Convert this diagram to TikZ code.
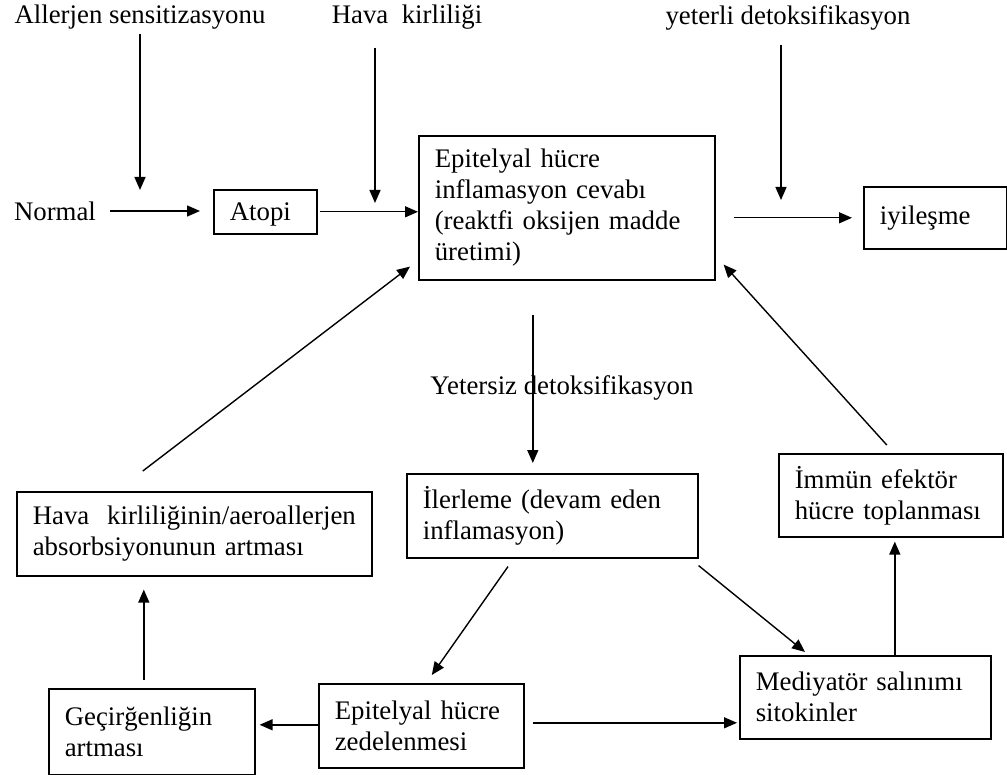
\documentclass[tikz,border=0pt]{standalone}
\usepackage{fontspec}
\setmainfont{Liberation Serif}
\usetikzlibrary{arrows.meta,positioning}

\begin{document}
\begin{tikzpicture}[
    x=0.5pt, y=-0.5pt,
    font=\fontsize{13.4}{15.5}\selectfont,
    box/.style={draw, thick, anchor=north west, align=left, inner xsep=8pt, inner ysep=0pt},
    lbl/.style={inner sep=2pt},
    arr/.style={-{Triangle[length=6.5pt, width=5.5pt]}, line width=0.7pt},
]
\useasboundingbox (0,0) rectangle (1007,775);

% --- top labels ---
\node[lbl] (allerjen) at (140,17) {Allerjen sensitizasyonu};
\node[lbl] (havak) at (407,17) {Hava~~kirliliği};
\node[lbl] (yeterli) at (788,18) {yeterli detoksifikasyon};
\node[lbl] (normal) at (55,211) {Normal};
\coordinate (a1) at (140,190);
\coordinate (h1) at (375,203);
\coordinate (y1) at (781,200);

% --- boxes ---
\node[box, text width=35.5pt, minimum height=22pt, text depth=-1pt] (atopi) at (213,189) {Atopi};
\node[box, text width=132pt, minimum height=72pt] (epi) at (418,135)
    {Epitelyal hücre\\inflamasyon cevabı\\(reaktfi oksijen madde\\üretimi)};
\node[box, text width=55.5pt, minimum height=31pt] (iyi) at (863,186) {iyileşme};
\node[box, text width=129.5pt, minimum height=42pt] (ilerleme) at (406,473)
    {İlerleme~(devam~eden\\inflamasyon)};
\node[box, text width=96pt, minimum height=41.5pt] (immun) at (778,453)
    {İmmün~efektör\\hücre~toplanması};
\node[box, text width=161.5pt, minimum height=42pt] (hava) at (16,491)
    {Hava~~kirliliğinin/aeroallerjen\\absorbsiyonunun~artması};
\node[box, text width=87pt, minimum height=43pt] (gecir) at (48,688)
    {Geçirğenliğin\\artması};
\node[box, text width=86.5pt, minimum height=42pt] (zedel) at (318,683)
    {Epitelyal~hücre\\zedelenmesi};
\node[box, text width=109.5pt, minimum height=41.5pt] (medi) at (739,655)
    {Mediyatör~salınımı\\sitokinler};
\node[lbl] (yetersiz) at (562,388) {Yetersiz detoksifikasyon};

% --- connectors ---
\draw[arr] (allerjen.south -| a1) -- (a1);
\draw[arr, shorten <=7pt] (havak.south -| h1) -- (h1);
\draw[arr, shorten <=5pt] (yeterli.south -| y1) -- (y1);
\draw[arr, shorten <=5pt, shorten >=6.5pt] (normal.east) -- (normal.east -| atopi.west);
\draw[arr, shorten <=1pt] (atopi.east) -- (atopi.east -| epi.west);
\draw[arr, shorten <=9pt, shorten >=5.5pt] (iyi.west -| epi.east) -- (iyi.west);
\draw[arr, shorten <=17pt, shorten >=5pt] ([xshift=-17pt]epi.south) -- ([xshift=-17pt]epi.south |- ilerleme.north);
\draw[arr] ([xshift=-25.75pt, yshift=10pt]hava.north) -- ([xshift=-4pt, yshift=7pt]epi.south west);
\draw[arr] ([xshift=-2pt, yshift=4pt]immun.north) -- ([xshift=4pt, yshift=8pt]epi.south east);
\draw[arr] ([xshift=51pt, yshift=-4pt]ilerleme.south west) -- ([xshift=5.25pt, yshift=4pt]zedel.north);
\draw[arr] ([yshift=-3.5pt]ilerleme.south east) -- ([xshift=33pt, yshift=1.5pt]medi.north west);
\draw[arr, shorten >=2pt] ([yshift=0.5pt]zedel.west) -- ([yshift=0.5pt]zedel.west -| gecir.east);
\draw[arr, shorten <=4pt, shorten >=1pt] ([yshift=1.5pt]zedel.east) -- ([yshift=1.5pt]zedel.east -| medi.west);
\draw[arr, shorten <=4pt, shorten >=6.5pt] ([xshift=-4pt]gecir.north) -- ([xshift=-4pt]gecir.north |- hava.south);
\draw[arr, shorten >=2pt] ([xshift=14.75pt]medi.north) -- ([xshift=14.75pt]medi.north |- immun.south);
\end{tikzpicture}
\end{document}
